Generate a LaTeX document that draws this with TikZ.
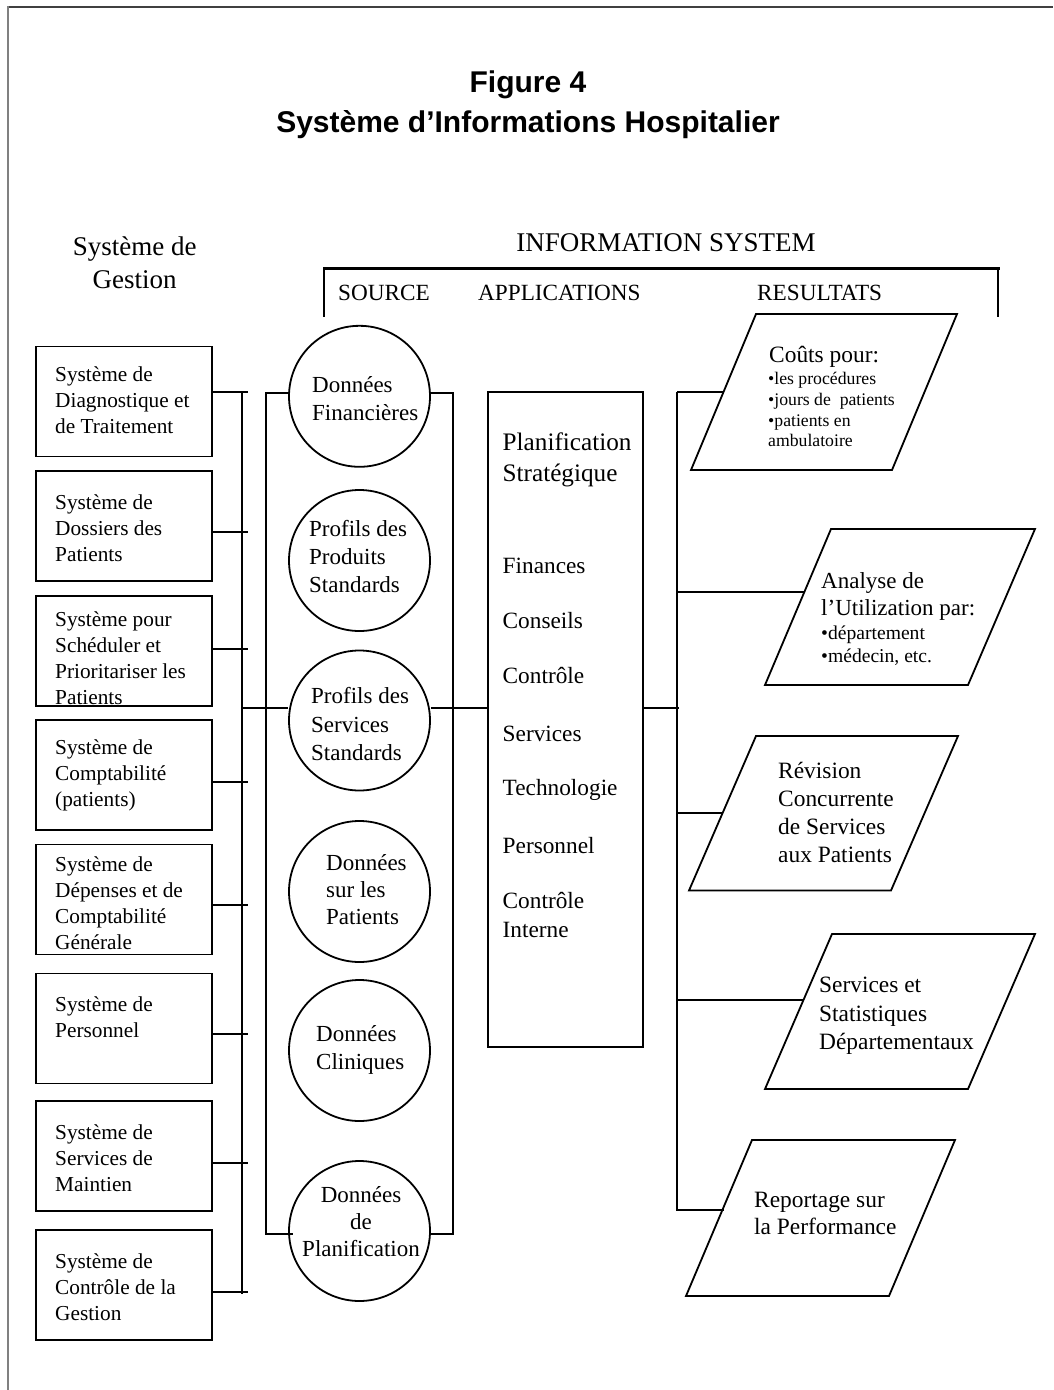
\documentclass[tikz,border=0pt]{standalone}
\usepackage{fontspec}
\setmainfont{Liberation Serif}
\newfontfamily\headfont{Liberation Sans}
\usetikzlibrary{shapes.geometric}
\newcommand\setfs[2]{\fontsize{#1}{#2}\selectfont}

\begin{document}
\begin{tikzpicture}[x=1pt,y=-1pt,
  wire/.style={line width=1.8pt},
  sysbox/.style={draw, line width=1.8pt, minimum width=176pt, minimum height=110pt, inner sep=0pt},
  srcdisk/.style={draw, ellipse, line width=1.8pt, minimum width=141pt, inner sep=0pt},
  txt/.style={anchor=north west, inner sep=0pt, align=left},
  boxfont/.style={font=\setfs{21.3}{26}},
  diskfont/.style={font=\setfs{23}{28}},
  itemfont/.style={font=\setfs{23.3}{28}},
  outfont/.style={font=\setfs{23.4}{28}},
  colfont/.style={font=\setfs{23.2}{28}},
]
% page and frame
\fill[white] (0,0) rectangle (1053,1390);
\useasboundingbox (0,0) rectangle (1053,1390);
\draw[line width=1.2pt, black!75] (7,7) -- (1053,7);
\draw[line width=2.4pt, black!50] (8,6) -- (8,1390);

% title
\node[anchor=north, align=center, inner sep=0pt, font=\headfont\bfseries\setfs{30}{40}] (title) at (528,64)
  {\strut Figure 4\\Système d’Informations Hospitalier};

% headings
\node[anchor=north, align=center, inner sep=0pt, font=\setfs{27}{33}] (gestion) at (134.7,232.5)
  {\strut Système de\\Gestion};
\node[anchor=base, inner sep=0pt, font=\setfs{27}{32}] (infosys) at (666,251.7) {INFORMATION SYSTEM};
\coordinate (hL) at (323,268);
\coordinate (hR) at (1000,268);
\coordinate (hLd) at (324,317);
\coordinate (hRd) at (998,317);
\draw[line width=3pt] (hL) -- (hR);
\draw[line width=1.5pt] (hLd |- hL) -- (hLd);
\draw[line width=1.5pt] (hRd |- hL) -- (hRd);
\node[anchor=base west, inner sep=0pt, colfont] (hsrc) at (338,300) {SOURCE};
\node[anchor=base west, inner sep=0pt, colfont] (happ) at (478,300) {APPLICATIONS};
\node[anchor=base west, inner sep=0pt, colfont] (hres) at (757,300) {RESULTATS};

% management systems
\node[sysbox] (b1) at (124,401.5) {};
\node[sysbox] (b2) at (124,526) {};
\node[sysbox] (b3) at (124,651) {};
\node[sysbox] (b4) at (124,775) {};
\node[sysbox] (b5) at (124,899.5) {};
\node[sysbox] (b6) at (124,1028.5) {};
\node[sysbox] (b7) at (124,1156) {};
\node[sysbox] (b8) at (124,1285) {};
\node[txt, boxfont] (b1t) at (55,362.8) {\strut Système de\\Diagnostique et\\de Traitement};
\node[txt, boxfont] (b2t) at (55,491.1) {\strut Système de\\Dossiers des\\Patients};
\node[txt, boxfont] (b3t) at (55,607.8) {\strut Système pour\\Schéduler et\\Prioritariser les\\Patients};
\node[txt, boxfont] (b4t) at (55,736.2) {\strut Système de\\Comptabilité\\(patients)};
\node[txt, boxfont] (b5t) at (55,853.2) {\strut Système de\\Dépenses et de\\Comptabilité\\Générale};
\node[txt, boxfont] (b6t) at (55,992.7) {\strut Système de\\Personnel};
\node[txt, boxfont] (b7t) at (55,1121.1) {\strut Système de\\Services de\\Maintien};
\node[txt, boxfont] (b8t) at (55,1250.1) {\strut Système de\\Contrôle de la\\Gestion};

% data sources
\node[srcdisk, minimum height=141pt] (c1) at (359.5,396.3) {};
\node[srcdisk, minimum height=141pt] (c2) at (359.5,560.5) {};
\node[srcdisk, minimum height=140pt] (c3) at (359.5,720.5) {};
\node[srcdisk, minimum height=141pt] (c4) at (359.5,891.5) {};
\node[srcdisk, minimum height=141pt] (c5) at (359.5,1050.5) {};
\node[srcdisk, minimum height=140pt] (c6) at (359.5,1231) {};
\node[txt, diskfont] (c1t) at (312,373) {\strut Données\\Financières};
\node[txt, diskfont] (c2t) at (309,516.9) {\strut Profils des\\Produits\\Standards};
\node[txt, font=\setfs{23}{28.5}] (c3t) at (311,683.6) {\strut Profils des\\Services\\Standards};
\node[txt, font=\setfs{23}{27}] (c4t) at (326,851.6) {\strut Données\\sur les\\Patients};
\node[txt, diskfont] (c5t) at (316,1021.9) {\strut Données\\Cliniques};
\node[anchor=north, align=center, inner sep=0pt, font=\setfs{23}{27}] (c6t) at (361,1183.4)
  {\strut Données\\de\\Planification};

% applications
\node[draw, line width=1.8pt, minimum width=155pt, minimum height=655pt, inner sep=0pt] (app) at (565.5,719.5) {};
\node[txt, font=\setfs{25.2}{31}] (plan) at (502.5,429) {\strut Planification\\Stratégique};
\node[anchor=base west, inner sep=0pt, itemfont] (a1) at (502.5,573.3) {Finances};
\node[anchor=base west, inner sep=0pt, itemfont] (a2) at (502.5,628.3) {Conseils};
\node[anchor=base west, inner sep=0pt, itemfont] (a3) at (502.5,683.3) {Contrôle};
\node[anchor=base west, inner sep=0pt, itemfont] (a4) at (502.5,741.8) {Services};
\node[anchor=base west, inner sep=0pt, itemfont] (a5) at (502.5,795.9) {Technologie};
\node[anchor=base west, inner sep=0pt, itemfont] (a6) at (502.5,853) {Personnel};
\node[txt, font=\setfs{23.3}{29.6}] (a7) at (502.5,887.3) {\strut Contrôle\\Interne};

% results (parallelograms)
\coordinate (p1bl) at (691,470);  \coordinate (p1tl) at (756,314);  \coordinate (p1tr) at (957,314);  \coordinate (p1br) at (892,470);
\coordinate (p2bl) at (765,685);  \coordinate (p2tl) at (831,529);  \coordinate (p2tr) at (1035,529); \coordinate (p2br) at (968,685);
\coordinate (p3bl) at (689,890.5);\coordinate (p3tl) at (756,736);  \coordinate (p3tr) at (958,736);  \coordinate (p3br) at (891,890.5);
\coordinate (p4bl) at (765,1089); \coordinate (p4tl) at (832,934);  \coordinate (p4tr) at (1035,934); \coordinate (p4br) at (968,1089);
\coordinate (p5bl) at (686,1296); \coordinate (p5tl) at (752,1140); \coordinate (p5tr) at (955,1140); \coordinate (p5br) at (889,1296);
\foreach \p in {p1,p2,p3,p4,p5}
  \draw[wire, line join=miter] (\p bl) -- (\p tl) -- (\p tr) -- (\p br) -- cycle;

\node[anchor=base west, inner sep=0pt, outfont] (r1h) at (769,362.3) {Coûts pour:};
\node[txt, font=\setfs{17.7}{20.9}] (r1t) at (768,369.4)
  {\strut •les procédures\\•jours de~ patients\\•patients en\\ambulatoire};
\node[txt, font=\setfs{23}{27}] (r2h) at (821,569.6) {\strut Analyse de\\l’Utilization par:};
\node[txt, font=\setfs{19.6}{22.7}] (r2t) at (821,623.7) {\strut •département\\•médecin, etc.};
\node[txt, font=\setfs{23.4}{27.9}] (r3t) at (778,758.8) {\strut Révision\\Concurrente\\de Services\\aux Patients};
\node[txt, font=\setfs{23.4}{28.2}] (r4t) at (819,972.9) {\strut Services et\\Statistiques\\Départementaux};
\node[txt, font=\setfs{23.4}{27.7}] (r5t) at (754,1187.4) {\strut Reportage sur\\la Performance};

% management bus
\coordinate (busT) at (242,392);
\coordinate (busB) at (242,1294);
\coordinate (busM) at (242,708);
\draw[wire] (busT) -- (busB);
\foreach \b/\y in {b1/392, b2/532, b3/649, b4/782, b5/905, b6/1034, b7/1163, b8/1292} {
  \coordinate (\b tap) at (248,\y);
  \draw[wire] (\b.east |- \b tap) -- (\b tap);
}

% source bracket
\coordinate (sL1) at (266,393);
\coordinate (sL2) at (266,1234);
\coordinate (sR1) at (453,393);
\coordinate (sR2) at (453,1234);
\draw[wire] (sL1 -| c1.west) -- (sL1) -- (sL2) -- ([xshift=5pt]sL2 -| c6.west);
\draw[wire] (sR1 -| c1.east) -- ([xshift=1pt]sR1) (sR1) -- (sR2) -- (sR2 -| c6.east);

% main flow line
\draw[wire] (busM) -- (busM -| c3.west);
\draw[wire] (c3.east |- busM) -- (app.west |- busM);
\coordinate (resM) at (679,708);
\draw[wire] (app.east |- busM) -- (resM);

% results bus
\coordinate (rT) at (677,392);
\coordinate (rB) at (677,1211);
\draw[wire] (rT) -- (rB);
\coordinate (q1) at (723.5,392);
\coordinate (q2) at (804.5,591.7);
\coordinate (q3) at (722.6,813);
\coordinate (q4) at (803.5,1000);
\coordinate (q5) at (724,1210);
\foreach \q in {q1,q2,q3,q4,q5}
  \draw[wire] (rT |- \q) -- (\q);
\end{tikzpicture}
\end{document}
